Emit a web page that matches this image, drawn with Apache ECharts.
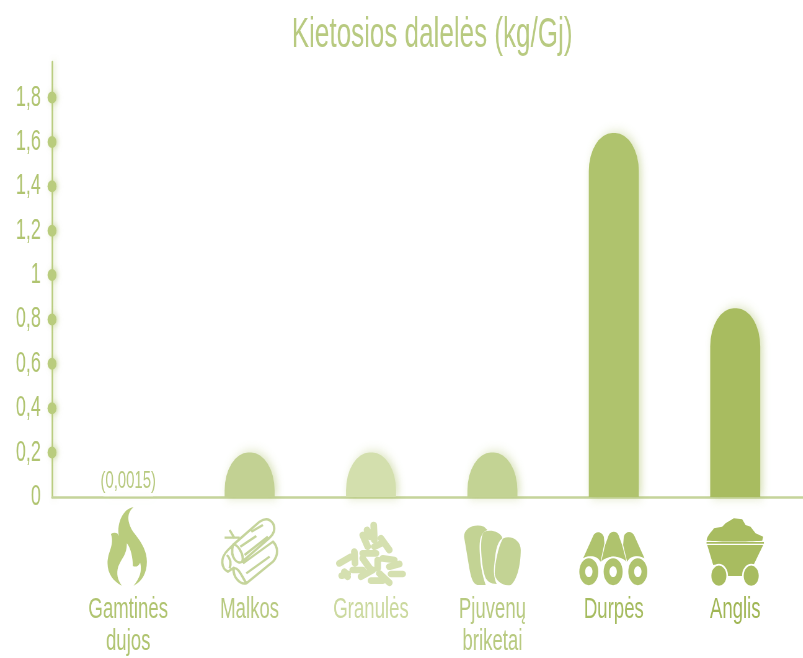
<!DOCTYPE html>
<html>
<head>
<meta charset="utf-8">
<style>
html, body { margin: 0; padding: 0; background: #fff; overflow: hidden; }
#main { height: 658px; transform-origin: 0 0; }
</style>
<script src="https://cdn.jsdelivr.net/npm/echarts@6/dist/echarts.min.js"></script>
</head>
<body>
<div id="main"></div>
<script>
// data
var categories = ['Gamtinės\ndujos', 'Malkos', 'Granulės', 'Pjuvenų\nbriketai', 'Durpės', 'Anglis'];
var particleValues = [0.0015, 0.2, 0.2, 0.2, 1.64, 0.85];
var valueLabels = ['(0,0015)', '', '', '', '', ''];
var yTicks = [0, 0.2, 0.4, 0.6, 0.8, 1, 1.2, 1.4, 1.6, 1.8];
var dotTicks = [0.2, 0.4, 0.6, 0.8, 1, 1.2, 1.4, 1.6, 1.8];

var barColors = ['#ffffff', '#c2d193', '#d3dfad', '#c3d394', '#afc36d', '#a8bc60'];
var labelColors = ['#b0c470', '#b8ca80', '#cbd99e', '#b8ca80', '#a6bc60', '#a0b654'];
var iconColors = ['#b9cc7d', '#c5d49b', '#d5e0b0', '#c3d394', '#afc36d', '#a8bc60'];

// the reference is squeezed horizontally, text and round shapes included
var SQUEEZE = 0.62;
var WIDTH = 803 / SQUEEZE;
var FONT = '"Liberation Sans", Arial, sans-serif';
var AXIS_MAX = 1.96;

var chartDom = document.getElementById('main');
chartDom.style.width = WIDTH + 'px';
chartDom.style.transform = 'scaleX(' + SQUEEZE + ')';
var myChart = echarts.init(chartDom);

// icons are in 3x picture units: x from the icon centre, y from picture y 430
var ICONS = [
    [{ fill: 'M-19 467C-45 455 -62 430 -62 400C-62 365 -40 345 -52 312C-42 305 -30 308 -28 318C-35 280 -15 235 16 232C-8 250 -2 285 20 312C42 340 56 365 56 395C56 430 40 455 16 467C34 445 42 425 36 398C30 410 22 412 14 408C14 385 8 355 -4 340C-4 375 -20 385 -30 410C-36 430 -32 450 -19 467Z' }],
    [{ line: 'M-50 345L30 275Q55 258 70 280Q82 305 58 325L-22 395C-35 405 -60 385 -50 345C-38 338 -15 375 -22 395M-20 400L70 335C85 350 88 375 70 395L-10 460C-30 465 -50 440 -48 415C-35 410 -25 435 -10 460M-50 345L-65 360C-90 385 -85 415 -65 425L-45 412M-68 375C-58 385 -55 400 -60 415M-75 323L-30 323M-60 300L-45 325M-28 350L20 318M5 305L40 285M-15 375L55 320M-10 430L60 380', width: 7 }],
    [{ line: 'M-95 400L-60 380M-50 365L-48 400M-55 420L-25 420M-30 440L5 420M-25 370L15 370M-25 315L-10 350M8 285L10 330M-12 300L-2 320M30 325L55 360M10 350L35 338M35 385L70 390M20 390L20 415M55 410L85 402M60 432L95 432M-25 385L0 420M25 430L55 458M0 452L35 452M-88 437L-70 432M-80 425L-70 440', width: 20, round: true }],
    [
        { fill: 'M-85 320C-85 295 -55 280 -25 290L-15 300C-40 310 -40 340 -37 380C-35 420 -25 450 -20 465L-45 465C-60 460 -65 440 -70 410Z' },
        { fill: 'M-25 305C-5 298 25 305 30 325C10 340 10 370 5 410C3 430 7 450 13 462C-5 462 -20 455 -25 430C-33 395 -40 320 -25 305Z' },
        { fill: 'M33 325C55 315 85 330 85 360C85 400 75 450 55 465C30 470 7 450 7 430C7 400 20 340 33 325Z' }
    ],
    [
        { fill: 'M-92 385L-62 318C-55 300 -35 305 -30 320L-28 340L-40 395C-50 375 -75 375 -92 385Z' },
        { fill: 'M-26 345L-15 315C-8 302 8 302 14 315L25 345L38 395C20 375 -20 375 -38 395Z' },
        { fill: 'M30 320C35 302 55 302 62 318L92 385C75 375 50 375 40 395L28 345Z' },
        { ellipse: [-75, 425, 31, 43], hole: true },
        { ellipse: [-2, 425, 31, 43], hole: true },
        { ellipse: [72, 425, 31, 43], hole: true }
    ],
    [
        { fill: 'M-86 332C-84 315 -69 305 -64 295L-39 290L-29 280L-4 265L21 268L31 285L46 290L61 310L84 320L81 332C36 335 -44 335 -86 332Z' },
        { fill: 'M-84 345L84 345L56 403C41 405 31 415 24 438L-26 438C-32 415 -49 402 -66 405Z' },
        { fill: 'M-86 336L86 336L86 341L-86 341Z' },
        { ellipse: [-49, 437, 25, 33] },
        { ellipse: [48, 437, 25, 33] }
    ]
];

function iconChildren(parts, color) {
    var out = [];
    parts.forEach(function (p) {
        if (p.fill) {
            out.push({ type: 'path', shape: { pathData: p.fill }, style: { fill: color } });
        } else if (p.line) {
            out.push({ type: 'path', shape: { pathData: p.line }, style: { fill: 'none', stroke: color, lineWidth: p.width, lineCap: p.round ? 'round' : 'butt' } });
        } else {
            var e = p.ellipse;
            out.push({ type: 'ellipse', shape: { cx: e[0], cy: e[1], rx: e[2], ry: e[3] }, style: { fill: color, stroke: '#fff', lineWidth: 5 } });
            if (p.hole) {
                out.push({ type: 'ellipse', shape: { cx: e[0], cy: e[1], rx: 11, ry: 16 }, style: { fill: '#fff' } });
            }
        }
    });
    return out;
}

var option = {
    animation: false,
    backgroundColor: '#fff',
    title: {
        text: 'Kietosios dalelės (kg/Gj)',
        left: 429 / SQUEEZE,
        top: 9,
        textAlign: 'center',
        textStyle: { color: '#b8ca80', fontFamily: FONT, fontWeight: 'normal', fontSize: 42 }
    },
    grid: [
        { left: 67.5 / SQUEEZE, width: 728.4 / SQUEEZE, top: 62, bottom: 161 },
        { left: 52 / SQUEEZE, right: 0, top: 62, bottom: 161 }
    ],
    xAxis: [
        {
            type: 'category',
            gridIndex: 0,
            data: categories.map(function (c, i) {
                return { value: c, textStyle: { color: labelColors[i] } };
            }),
            axisLine: { show: false },
            axisTick: { show: false },
            axisLabel: { interval: 0, margin: 97, fontFamily: FONT, fontSize: 30, lineHeight: 32 }
        },
        {
            type: 'value',
            gridIndex: 1,
            min: 0,
            max: 1,
            position: 'bottom',
            axisLine: { show: true, onZero: false, lineStyle: { color: '#c5d49b', width: 2.5 } },
            axisTick: { show: false },
            axisLabel: { show: false },
            splitLine: { show: false }
        }
    ],
    yAxis: [
        { type: 'value', gridIndex: 0, min: 0, max: AXIS_MAX, show: false },
        {
            type: 'value',
            gridIndex: 1,
            min: 0,
            max: AXIS_MAX,
            axisLine: { show: true, lineStyle: { color: '#b9cc7d', width: 2.5, shadowBlur: 6, shadowOffsetX: 3, shadowColor: 'rgba(185,204,125,0.5)' } },
            axisTick: { show: false },
            splitLine: { show: false },
            axisLabel: {
                customValues: yTicks,
                margin: 18,
                color: '#b0c470',
                fontFamily: FONT,
                fontSize: 29,
                padding: [3, 0, 0, 0],
                formatter: function (v) { return String(v).replace('.', ','); }
            }
        }
    ],
    series: [
        {
            name: 'Kietosios dalelės',
            type: 'bar',
            xAxisIndex: 0,
            yAxisIndex: 0,
            barWidth: 50 / SQUEEZE,
            data: particleValues.map(function (v, i) {
                return {
                    value: v,
                    itemStyle: { color: barColors[i] },
                    label: { show: valueLabels[i] !== '', formatter: valueLabels[i] }
                };
            }),
            itemStyle: {
                borderRadius: [38, 38, 0, 0],
                shadowBlur: 12,
                shadowOffsetX: 4,
                shadowColor: 'rgba(170,190,100,0.45)'
            },
            label: { position: 'top', distance: 3, color: '#b8ca80', fontFamily: FONT, fontSize: 24 }
        },
        {
            name: 'ticks',
            type: 'scatter',
            xAxisIndex: 1,
            yAxisIndex: 1,
            clip: false,
            symbolSize: [14.5, 12],
            data: dotTicks.map(function (v) { return [0, v]; }),
            itemStyle: { color: '#b9cc7d', opacity: 1, shadowBlur: 6, shadowOffsetX: 3, shadowColor: 'rgba(185,204,125,0.6)' }
        },
        {
            // icons under the category labels, x taken from the category axis
            name: 'icons',
            type: 'custom',
            xAxisIndex: 0,
            yAxisIndex: 0,
            silent: true,
            data: categories.map(function (c, i) { return [i]; }),
            encode: { x: 0 },
            renderItem: function (params, api) {
                var i = params.dataIndex;
                return {
                    type: 'group',
                    x: api.coord([i, 0])[0],
                    y: 430,
                    scaleX: 1 / (3 * SQUEEZE),
                    scaleY: 1 / 3,
                    children: iconChildren(ICONS[i], iconColors[i])
                };
            }
        }
    ]
};
myChart.setOption(option);
</script>
</body>
</html>
